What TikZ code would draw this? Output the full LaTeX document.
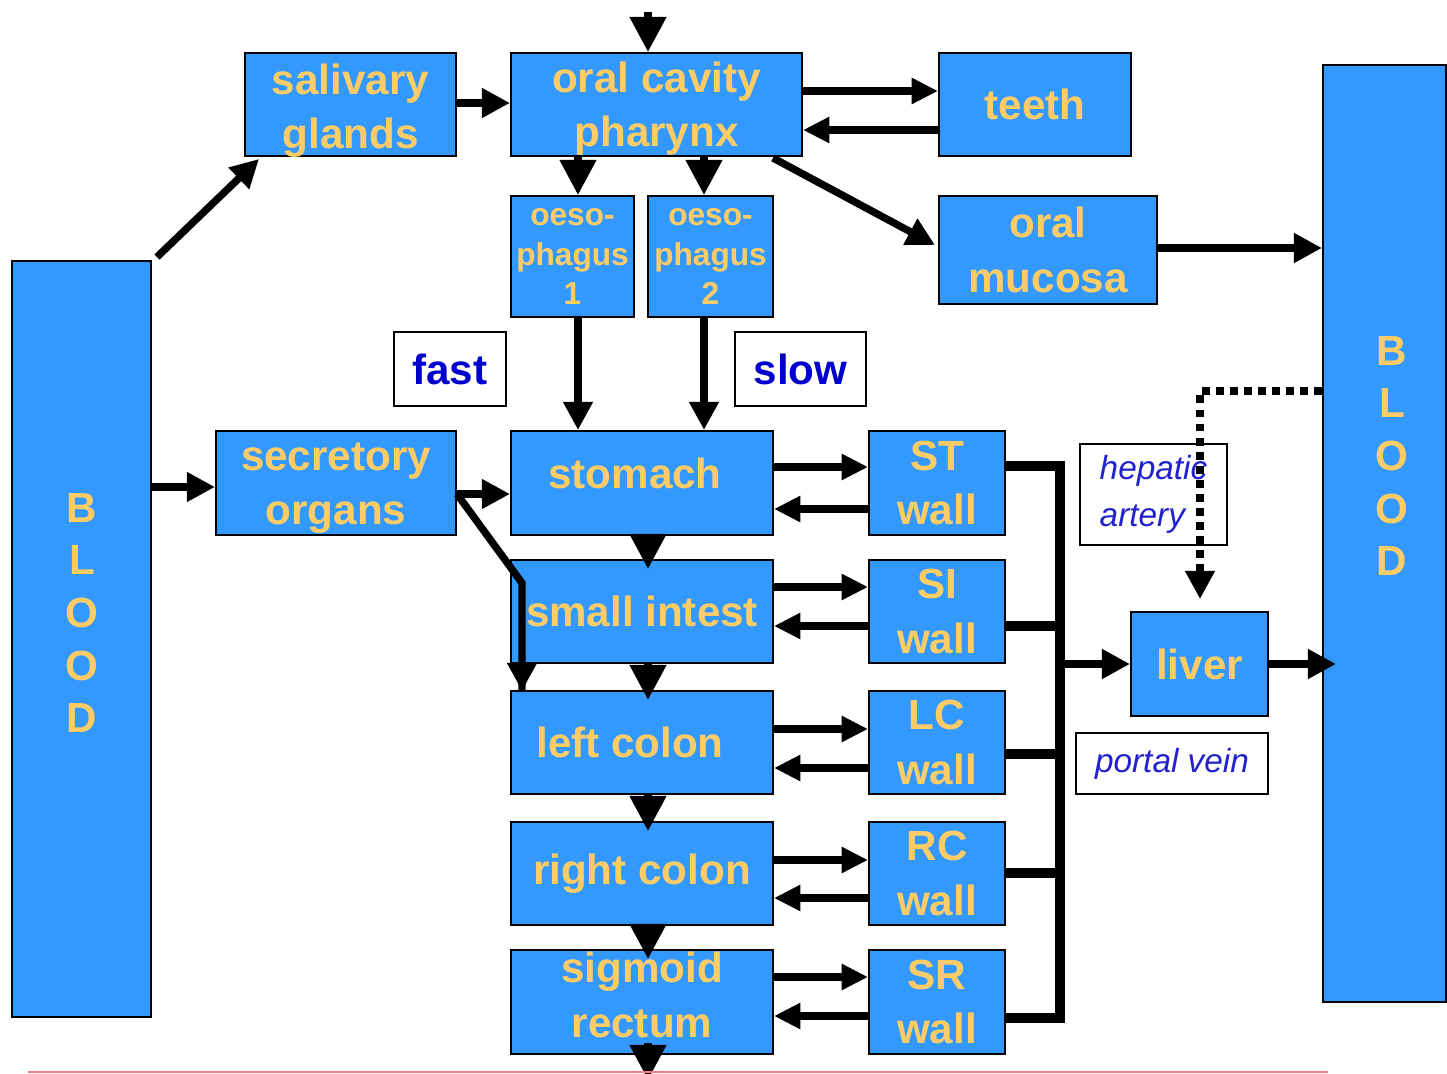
\documentclass[tikz,border=0pt]{standalone}
\usepackage{fontspec}
\setmainfont{Liberation Sans}
\usetikzlibrary{arrows.meta,calc}
\definecolor{boxblue}{RGB}{51,153,255}
\definecolor{gold}{RGB}{255,204,102}
\definecolor{lblue}{RGB}{0,0,204}
\definecolor{iblue}{RGB}{34,34,204}
\definecolor{redline}{RGB}{240,128,128}
\newcommand\liftby[2]{\raisebox{#1}[\height][\depth]{#2}}
\begin{document}
\begin{tikzpicture}[x=0.02cm,y=-0.02cm,
 wh/.style 2 args={minimum width=#1*0.02cm,minimum height=#2*0.02cm},
 box/.style={draw=black,line width=1.1pt,fill=boxblue,text=gold,inner sep=0pt,align=center,font=\bfseries\fontsize{24}{31}\selectfont},
 smallbox/.style={box,font=\bfseries\fontsize{18}{22.5}\selectfont},
 tag/.style={draw=black,line width=1.1pt,fill=white,text=lblue,inner sep=0pt,align=center,font=\bfseries\fontsize{24}{30}\selectfont},
 itag/.style={tag,text=iblue,font=\itshape\fontsize{19}{27}\selectfont},
 arr/.style={line width=4.2pt,-{Triangle[length=16pt,width=16pt]}},
 arrbig/.style={line width=4.2pt,-{Triangle[length=20pt,width=20pt]}},
 arrsm/.style={line width=4.2pt,-{Triangle[length=15pt,width=14pt]}},
 bus/.style={line width=5.5pt},
 dots/.style={line width=4.5pt,dash pattern=on 4.5pt off 3.5pt,-{Triangle[length=16pt,width=16pt]}},
 bloodtxt/.style={text=gold,align=center,font=\bfseries\fontsize{24}{30}\selectfont}
]
\useasboundingbox (0,0) rectangle (1447,1074);
\fill[white] (0,0) rectangle (1447,1074);

% boxes
\node[box,wh={139}{756}] (bloodL) at (81.5,639) {};
\node[bloodtxt] (bloodLtxt) at (82,613) {B\\L\\O\\O\\D};
\node[box,wh={123}{937}] (bloodR) at (1384.5,533.5) {};
\node[bloodtxt] (bloodRtxt) at (1392,456) {B\\L\\O\\O\\D};

\node[box,wh={211}{103}] (sal) at (350.5,104.5) {\liftby{-0.12cm}{salivary}\\\liftby{-0.12cm}{glands}};
\node[box,wh={291}{103}] (oral) at (656.5,104.5) {\liftby{-0.08cm}{oral cavity}\\\liftby{-0.08cm}{pharynx}};
\node[box,wh={192}{103}] (teeth) at (1035,104.5) {teeth};
\node[box,wh={218}{108}] (muc) at (1048,250) {oral\\mucosa};
\node[smallbox,wh={123}{121}] (oes1) at (572.5,256.5) {oeso-\\phagus\\1};
\node[smallbox,wh={125}{121}] (oes2) at (710.5,256.5) {oeso-\\phagus\\2};
\node[tag,wh={112}{74}] (fast) at (450,369) {fast};
\node[tag,wh={131}{74}] (slow) at (800.5,369) {slow};
\node[box,wh={240}{104}] (sec) at (336,483) {\liftby{-0.1cm}{secretory}\\\liftby{-0.1cm}{organs}};
\node[box,wh={262}{104}] (stom) at (642,483) {\liftby{0.2cm}{stomach}\hspace*{0.28cm}};
\node[box,wh={136}{104}] (stw) at (937,483) {ST\\wall};
\node[box,wh={262}{103}] (si) at (642,611.5) {small intest};
\node[box,wh={136}{103}] (siw) at (937,611.5) {SI\\wall};
\node[box,wh={262}{103}] (lc) at (642,742.5) {left colon\hspace*{0.48cm}};
\node[box,wh={136}{103}] (lcw) at (937,742.5) {LC\\wall};
\node[box,wh={262}{103}] (rc) at (642,873.5) {right colon};
\node[box,wh={136}{103}] (rcw) at (937,873.5) {RC\\wall};
\node[box,wh={262}{104}] (sig) at (642,1002) {\liftby{0.14cm}{sigmoid}\\\liftby{0.14cm}{rectum}};
\node[box,wh={136}{104}] (srw) at (937,1002) {SR\\wall};
\node[itag,align=left,wh={147}{101}] (hep) at (1153.5,494.5) {hepatic\\artery};
\node[box,wh={137}{104}] (liver) at (1199.5,664) {liver};
\node[itag,wh={192}{61}] (portal) at (1172,763.5) {portal vein};

% coordinates
\coordinate (topin) at (648,12);
\coordinate (exit) at (648,1080);
\coordinate (bend) at (522,583);
\coordinate (bt) at (1060,466);
\coordinate (bb) at (1060,1018);
\coordinate (hp) at (1200,391);

% top part
\draw[arrbig] (topin) -- (oral.north -| topin);
\draw[arr] ($(bloodL.north east)+(5,-3)$) -- ($(sal.south west)+(15,2)$);
\draw[arr] (sal.east |- 0,103) -- (oral.west |- 0,103);
\draw[arrsm] (oral.east |- 0,91) -- (teeth.west |- 0,91);
\draw[arrsm] (teeth.west |- 0,130) -- (oral.east |- 0,130);
\draw[arr] ($(oral.south east)+(-30,1)$) -- ($(muc.west)+(-3,-5)$);
\draw[arr] (muc.east |- 0,248) -- (bloodR.west |- 0,248);
\draw[arrbig] (oral.south -| 578,0) -- (oes1.north -| 578,0);
\draw[arrbig] (oral.south -| 704,0) -- (oes2.north -| 704,0);
\draw[arr] (oes1.south -| 578,0) -- (stom.north -| 578,0);
\draw[arr] (oes2.south -| 704,0) -- (stom.north -| 704,0);

% left part
\draw[arr] (bloodL.east |- 0,487) -- (sec.west |- 0,487);
\draw[arr] (sec.east |- 0,494) -- (stom.west |- 0,494);
\draw[line width=4.2pt,line join=miter] (sec.east |- 0,494) -- (bend) -- (lc.north -| bend);
\draw[arr] ($(lc.north -| bend)+(0,-20)$) -- ($(lc.north -| bend)+(0,1)$);

% main column
\draw[arrbig] (stom.south -| topin) -- ($(si.north -| topin)+(0,10)$);
\draw[arrbig] (si.south -| topin) -- ($(lc.north -| topin)+(0,10)$);
\draw[arrbig] (lc.south -| topin) -- ($(rc.north -| topin)+(0,10)$);
\draw[arrbig] (rc.south -| topin) -- ($(sig.north -| topin)+(0,10)$);
\draw[arrbig] ($(sig.south -| topin)+(0,-12)$) -- (exit);

% exchanges with walls
\draw[arrsm] (stom.east |- 0,467) -- (stw.west |- 0,467);
\draw[arrsm] (stw.west |- 0,509) -- (stom.east |- 0,509);
\draw[arrsm] (si.east |- 0,587) -- (siw.west |- 0,587);
\draw[arrsm] (siw.west |- 0,626) -- (si.east |- 0,626);
\draw[arrsm] (lc.east |- 0,729) -- (lcw.west |- 0,729);
\draw[arrsm] (lcw.west |- 0,768) -- (lc.east |- 0,768);
\draw[arrsm] (rc.east |- 0,860) -- (rcw.west |- 0,860);
\draw[arrsm] (rcw.west |- 0,898) -- (rc.east |- 0,898);
\draw[arrsm] (sig.east |- 0,977) -- (srw.west |- 0,977);
\draw[arrsm] (srw.west |- 0,1016) -- (sig.east |- 0,1016);

% portal collector
\draw[bus,line join=miter] (stw.east |- bt) -- (bt) -- (bb) -- (srw.east |- bb);
\draw[bus] (siw.east |- 0,626) -- (bt |- 0,626);
\draw[bus] (lcw.east |- 0,754) -- (bt |- 0,754);
\draw[bus] (rcw.east |- 0,873) -- (bt |- 0,873);
\draw[arr] (bt |- liver.west) -- (liver.west);
\draw[arr] (liver.east) -- ($(bloodR.west |- liver.east)+(14,0)$);

% hepatic artery
\draw[dots] (bloodR.west |- hp) -- (hp) -- ($(liver.north -| hp)+(0,-12)$);

% bottom line
\draw[redline,line width=1.2pt] (28,1072) -- (1328,1072);
\end{tikzpicture}
\end{document}
